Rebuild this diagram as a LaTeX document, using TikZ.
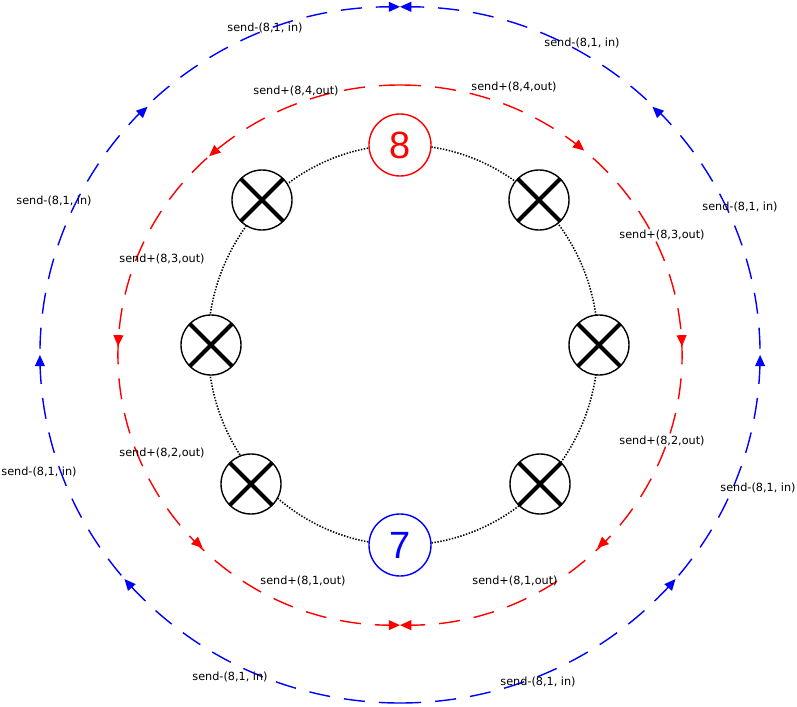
\documentclass[tikz,border=0pt]{standalone}
\usepackage{fontspec}
\setmainfont{DejaVu Sans}
\newfontfamily\numfont{Liberation Sans}
\usetikzlibrary{arrows.meta,decorations.markings}

\begin{document}
\begin{tikzpicture}[x=0.025cm,y=0.025cm,>={Triangle[length=8pt,width=7pt]},
    lamp/.style={draw,circle,line width=1pt,fill=white,minimum size=1.5cm,inner sep=0pt,
      font=\fontsize{5}{5}\selectfont,
      path picture={\draw[line width=3pt]
        (path picture bounding box.south west) -- (path picture bounding box.north east)
        (path picture bounding box.north west) -- (path picture bounding box.south east);}},
    bignum/.style={circle,line width=1pt,draw=#1,text=#1,fill=white,minimum size=1.55cm,inner sep=0pt,
      font=\numfont\fontsize{27}{27}\selectfont},
    lbl/.style={font=\fontsize{8}{9.6}\selectfont,inner sep=1pt},
    flow/.style args={#1/#2/#3}{line width=1pt,dash pattern=on 15pt off 10pt,postaction={decorate},
      decoration={markings,
        mark=at position #1 with {\arrow{>}},
        mark=at position #2 with {\arrow{>}},
        mark=at position #3 with {\arrow{>}}}}]
    \useasboundingbox (0,0) rectangle (797,706);

    % ring
    \draw[line width=1.1pt,dash pattern=on 1pt off 1.1pt] (403,361) ellipse [x radius=4.875cm,y radius=5cm];

    % outer flows
    \coordinate (blueS) at (400,3);
    \coordinate (redN) at (400,621);
    \draw[flow=0.28/0.5/0.75,blue,->] (blueS) arc[start angle=-90,end angle=90,x radius=9cm,y radius=8.7cm];
    \draw[flow=0.28/0.5/0.75,blue,->] (blueS) arc[start angle=270,end angle=90,x radius=9cm,y radius=8.7cm];
    \draw[flow=0.23/0.49/0.75,red,->] (redN) arc[start angle=90,end angle=-90,x radius=7.05cm,y radius=6.75cm];
    \draw[flow=0.24/0.49/0.75,red,->] (redN) arc[start angle=90,end angle=270,x radius=7.05cm,y radius=6.75cm];

    % nodes on the ring
    \node[bignum=red] (n8) at (400,561) {8};
    \node[bignum=blue] (n7) at (400,161) {7};
    \node[lamp] (lampNE) at (539,506) {1};
    \node[lamp] (lampNW) at (262,506) {};
    \node[lamp] (lampW) at (211,361) {};
    \node[lamp] (lampE) at (599,361) {};
    \node[lamp] (lampSW) at (251,222) {2};
    \node[lamp] (lampSE) at (540,222) {3};

    % labels
    \foreach \p [count=\i] in {(265,678),(582,663),(54,505),(740,499),(39,234),(758,218),(230,29),(538,24)}
        \node[lbl] (inlbl\i) at \p {send-(8,1, in)};
    \foreach \p/\t [count=\i] in {(296,615)/4,(514,619)/4,(162,447)/3,(662,471)/3,(162,253)/2,(662,265)/2,(303,125)/1,(515,125)/1}
        \node[lbl] (outlbl\i) at \p {send+(8,\t,out)};
\end{tikzpicture}
\end{document}
